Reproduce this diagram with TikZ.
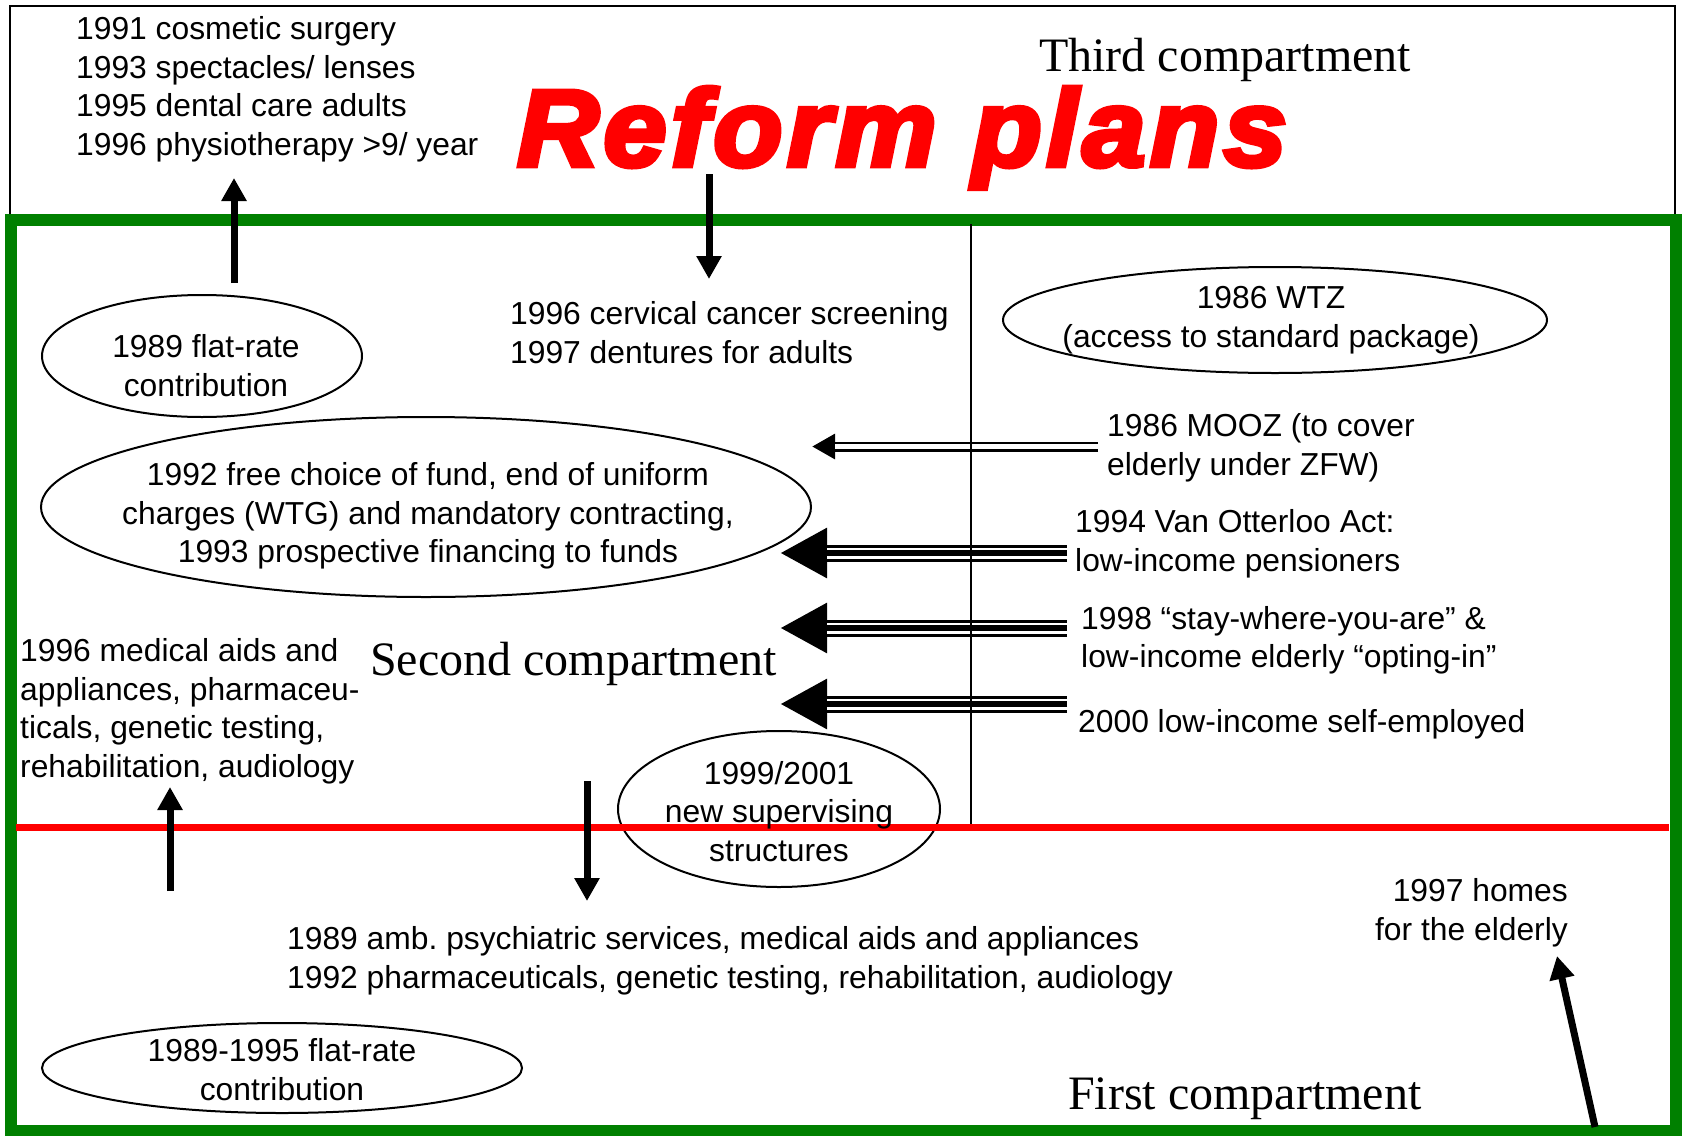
\documentclass[tikz,border=0pt]{standalone}
\usepackage{fontspec}
\setmainfont{Liberation Sans}
\newfontfamily\serifface{Liberation Serif}
\newfontfamily\titleface[FakeBold=4.5,LetterSpace=4]{Liberation Sans Bold Italic}
\usetikzlibrary{shapes.geometric,arrows.meta}
\definecolor{frameGreen}{RGB}{0,128,0}
\definecolor{cutRed}{RGB}{255,0,0}
\frenchspacing
\tikzset{
  lbl/.style={inner sep=0pt, font=\fontsize{31.8}{38}\selectfont},
  lblL/.style={lbl, anchor=base west},
  lblC/.style={lbl, anchor=base},
  lblR/.style={lbl, anchor=base east},
  compart/.style={inner sep=0pt, anchor=base west, font=\serifface\fontsize{48}{56}\selectfont},
  oval/.style={ellipse, draw, line width=2pt, inner sep=0pt},
  movearrow/.style={line width=7pt, -{Triangle[length=23pt,width=24pt]}},
  dbltip/.style={line width=10pt, -{Triangle[length=23pt,width=24pt]}},
  tritip/.style={line width=17pt, -{Triangle[length=47pt,width=47pt]}},
}
\begin{document}
\begin{tikzpicture}[x=1pt,y=-1pt]
\useasboundingbox (0,0) rectangle (1686,1135);

% outer frame of the third compartment
\draw[line width=1.8pt] (10,6) rectangle (1675,219);

% ellipses
\node[oval, minimum width=320pt, minimum height=122pt] (flat89) at (202,356) {};
\node[oval, minimum width=770pt, minimum height=180pt] (choice92) at (426,507) {};
\node[oval, minimum width=544pt, minimum height=106pt] (wtz) at (1275,320) {};
\node[oval, minimum width=322pt, minimum height=156pt] (superv) at (779,809) {};
\node[oval, minimum width=480pt, minimum height=90pt] (flat8995) at (282,1068) {};

% green frame of the first and second compartments
\draw[frameGreen, line width=12pt] (10.5,219.5) rectangle (1675.5,1131);

% boundary between first and second compartment
\coordinate (redL) at (16,827);
\coordinate (redR) at (1669,827);
\draw[cutRed, line width=7pt] (redL) -- (redR);

% title
\node[inner sep=0pt, anchor=base west, text=cutRed, xscale=1.04,
      font=\titleface\fontsize{109}{120}\selectfont] (title) at (517,166) {Reform plans};

% compartment names
\node[compart] (third) at (1039,71) {Third compartment};
\node[compart] (second) at (370,675) {Second compartment};
\node[compart] (first) at (1068,1109) {First compartment};

% third compartment list
\node[lblL] (t1) at (76,39) {1991 cosmetic surgery};
\node[lblL] (t2) at (76,78) {1993 spectacles/ lenses};
\node[lblL] (t3) at (76,116) {1995 dental care adults};
\node[lblL] (t4) at (76,155) {1996 physiotherapy >9/ year};

% moved into the second compartment
\node[lblL] (c1) at (510,324) {1996 cervical cancer screening};
\node[lblL] (c2) at (510,363) {1997 dentures for adults};

% ellipse texts
\node[lblC] (flat89a) at (206,357) {1989 flat-rate};
\node[lblC] (flat89b) at (206,396) {contribution};
\node[lblC] (choice92a) at (428,485) {1992 free choice of fund, end of uniform};
\node[lblC] (choice92b) at (428,524) {charges (WTG) and mandatory contracting,};
\node[lblC] (choice92c) at (428,562) {1993 prospective financing to funds};
\node[lblC] (wtza) at (1271,308) {1986 WTZ};
\node[lblC] (wtzb) at (1271,347) {(access to standard package)};
\node[lblC] (supera) at (779,784) {1999/2001};
\node[lblC] (superb) at (779,822) {new supervising};
\node[lblC] (superc) at (779,861) {structures};
\node[lblC] (flat8995a) at (282,1061) {1989-1995 flat-rate};
\node[lblC] (flat8995b) at (282,1100) {contribution};

% access groups on the right
\node[lblL] (mooza) at (1107,436) {1986 MOOZ (to cover};
\node[lblL] (moozb) at (1107,475) {elderly under ZFW)};
\node[lblL] (vana) at (1075,532) {1994 Van Otterloo Act:};
\node[lblL] (vanb) at (1075,571) {low-income pensioners};
\node[lblL] (staya) at (1081,629) {1998 “stay-where-you-are” \&};
\node[lblL] (stayb) at (1081,667) {low-income elderly “opting-in”};
\node[lblL] (selfe) at (1078,732) {2000 low-income self-employed};

% moved out of the first compartment
\node[lblL] (m1) at (20,661) {1996 medical aids and};
\node[lblL] (m2) at (20,700) {appliances, pharmaceu-};
\node[lblL] (m3) at (20,738) {ticals, genetic testing,};
\node[lblL] (m4) at (20,777) {rehabilitation, audiology};

% moved into the first compartment
\node[lblL] (f1) at (287,949) {1989 amb. psychiatric services, medical aids and appliances};
\node[lblL] (f2) at (287,988) {1992 pharmaceuticals, genetic testing, rehabilitation, audiology};

\node[lblR] (homesa) at (1568,901) {1997 homes};
\node[lblR] (homesb) at (1568,940) {for the elderly};

% single arrows
\coordinate (u1s) at (234,283); \coordinate (u1t) at (234,178);
\coordinate (d1s) at (709,174); \coordinate (d1t) at (709,279);
\coordinate (u2s) at (170,891); \coordinate (u2t) at (170,787);
\coordinate (d2s) at (587,781); \coordinate (d2t) at (587,901);
\coordinate (hs) at (1595,1127); \coordinate (ht) at (1557,956);
\draw[movearrow] (u1s) -- (u1t);
\draw[movearrow] (d1s) -- (d1t);
\draw[movearrow] (u2s) -- (u2t);
\draw[movearrow] (d2s) -- (d2t);
\draw[movearrow] (hs) -- (ht);

% double arrow (MOOZ)
\coordinate (mS) at (1098,446.5); \coordinate (mB) at (835,446.5); \coordinate (mT) at (812,446.5);
\draw[dbltip] (mS) -- (mT);
\draw[white, line width=5pt] (mS) -- (mB);

% triple arrows
\foreach \nm/\yy in {van/553, stay/628, self/704}{
  \coordinate (\nm S) at (1067,\yy);
  \coordinate (\nm B) at (827,\yy);
  \coordinate (\nm T) at (780,\yy);
  \draw[tritip] (\nm S) -- (\nm T);
  \draw[white, line width=11pt] (\nm S) -- (\nm B);
  \draw[line width=6pt] (\nm S) -- (\nm B);
}

% divider between second and third compartment
\coordinate (divTop) at (971,224);
\coordinate (divBot) at (971,824);
\draw[line width=1.8pt] (divTop) -- (divBot);
\end{tikzpicture}
\end{document}
